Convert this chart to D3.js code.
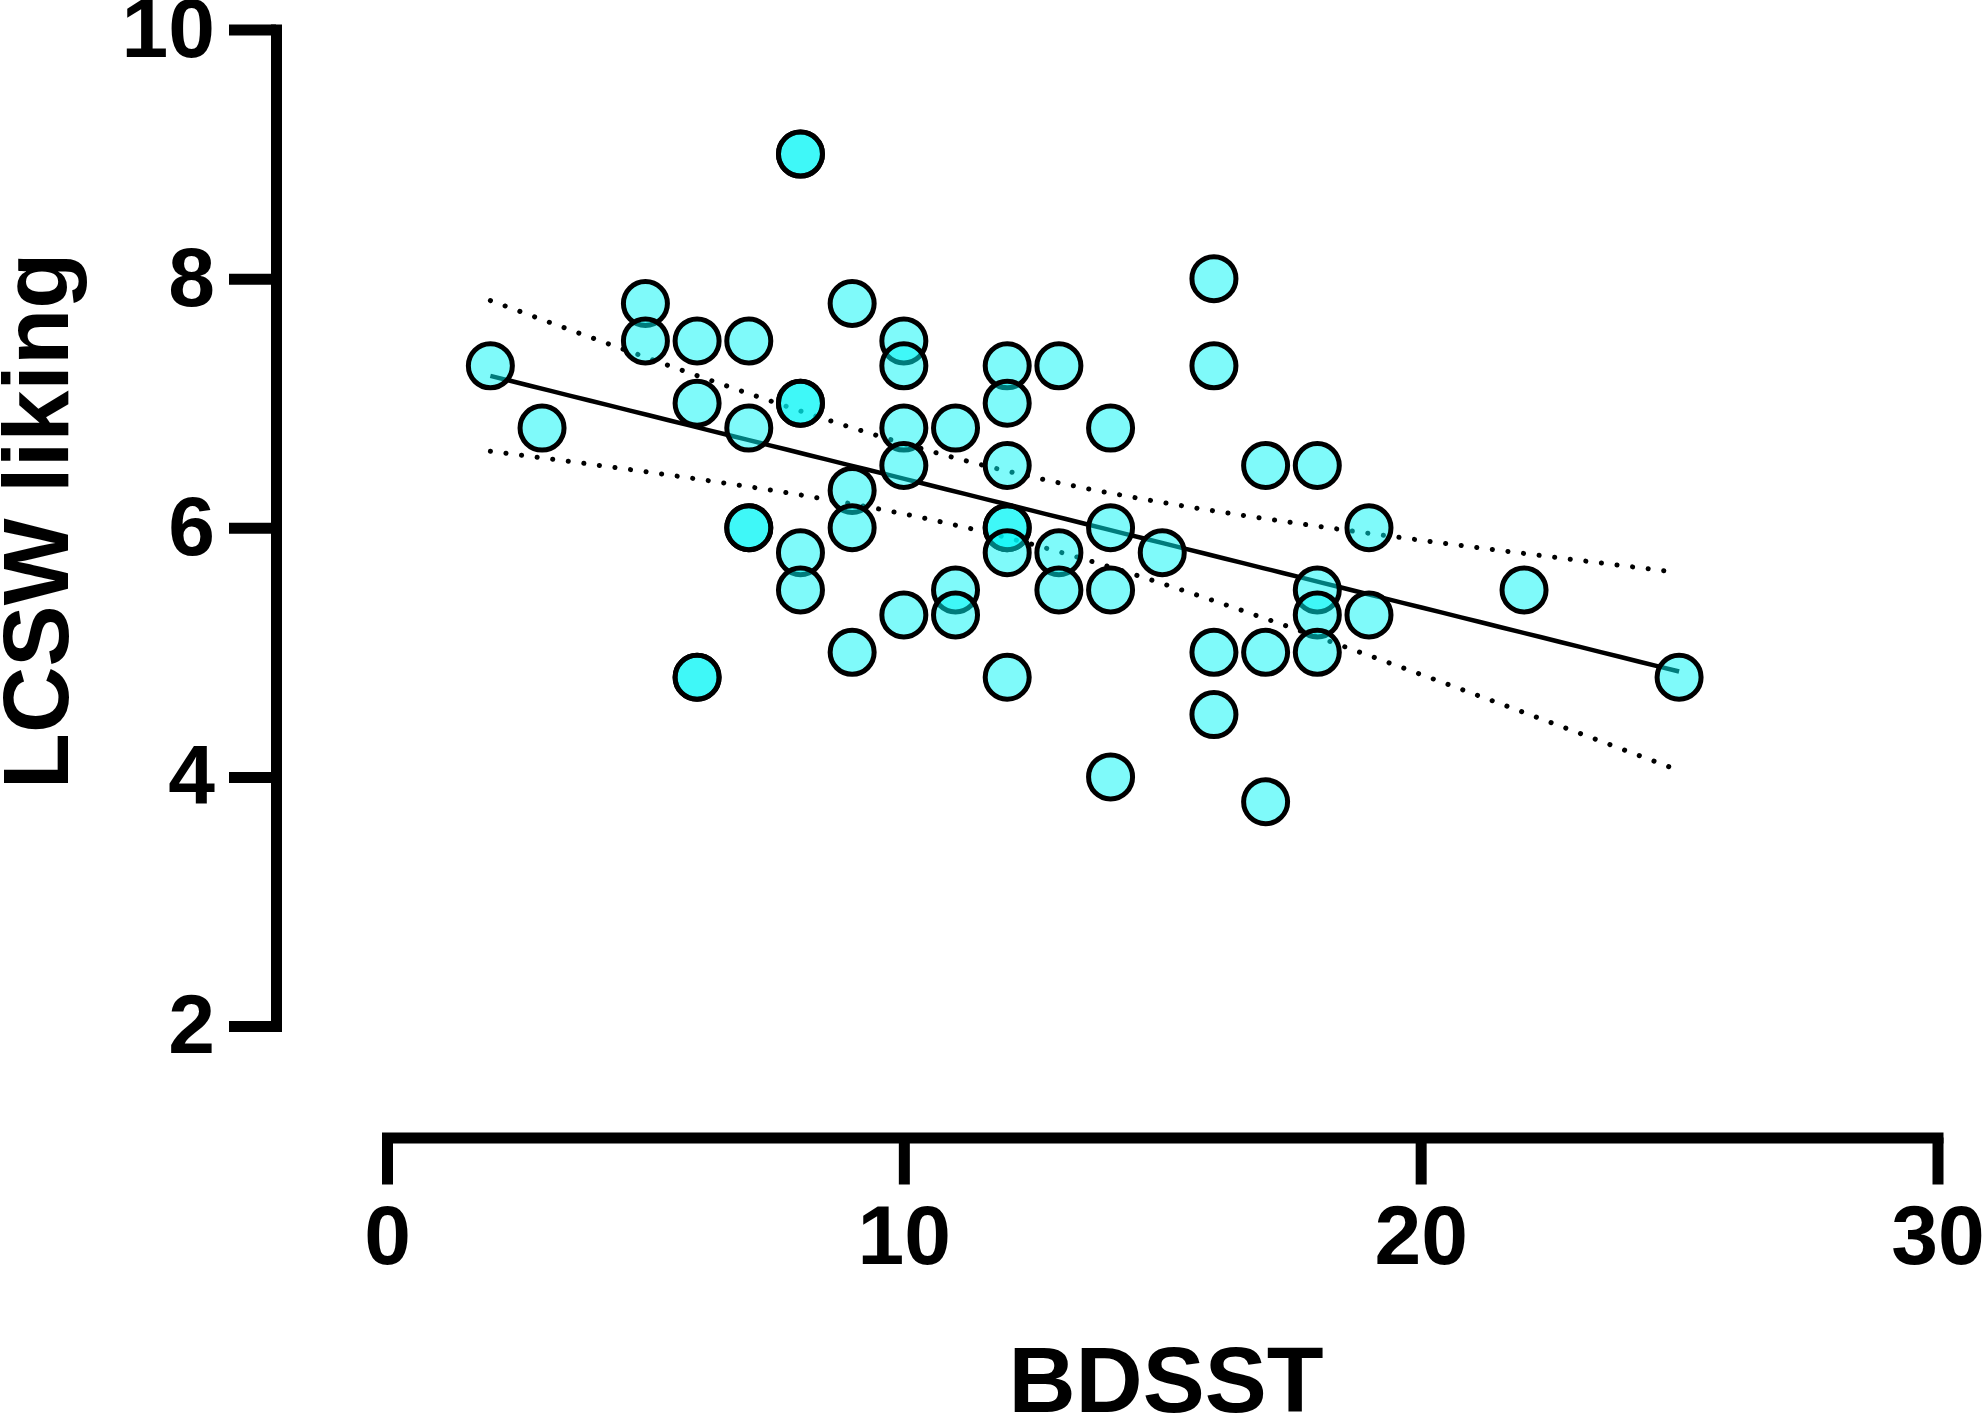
<!DOCTYPE html>
<html>
<head>
<meta charset="utf-8">
<script src="https://cdn.jsdelivr.net/npm/d3@7"></script>
<style>
  body { margin: 0; background: #fff; }
  text { font-family: "Liberation Sans", Arial, sans-serif; font-weight: bold; }
</style>
</head>
<body>
<script>
// BDSST score (x) and LCSW liking (y) for each participant
var bdsst  = [2, 3, 5, 5, 6, 6, 6, 6, 7, 7, 7, 7,
              8, 8, 8, 8, 8, 8, 9, 9, 9, 9,
              10, 10, 10, 10, 10, 11, 11, 11,
              12, 12, 12, 12, 12, 12, 12, 13, 13, 13,
              14, 14, 14, 14, 15, 16, 16, 16, 16,
              17, 17, 17, 18, 18, 18, 18, 19, 19, 22, 25];
var liking = [7.3, 6.8, 7.8, 7.5, 7.5, 7.0, 4.8, 4.8, 7.5, 6.8, 6.0, 6.0,
              9.0, 9.0, 7.0, 7.0, 5.8, 5.5, 7.8, 6.3, 6.0, 5.0,
              7.5, 7.3, 6.8, 6.5, 5.3, 6.8, 5.5, 5.3,
              7.3, 7.0, 6.5, 6.0, 6.0, 5.8, 4.8, 7.3, 5.8, 5.5,
              6.8, 6.0, 5.5, 4.0, 5.8, 8.0, 7.3, 5.0, 4.5,
              6.5, 5.0, 3.8, 6.5, 5.5, 5.3, 5.0, 6.0, 5.3, 5.5, 4.8];

var xTicks = [0, 10, 20, 30];
var yTicks = [2, 4, 6, 8, 10];
var xLabel = "BDSST";
var yLabel = "LCSW liking";
var tCrit = 2.006; // 95% two-sided, df = n - 2

function init() {
    var w = 1982;
    var h = 1416;

    var x = d3.scaleLinear().domain([0, 30]).range([387, 1937.5]);
    var y = d3.scaleLinear().domain([2, 10]).range([1026, 29.5]);

    var svg = d3.select("body")
        .append("svg")
        .attr("width", w)
        .attr("height", h);

    // linear fit with 95% confidence band
    var n = bdsst.length;
    var mx = d3.mean(bdsst);
    var my = d3.mean(liking);
    var sxx = d3.sum(bdsst, d => (d - mx) * (d - mx));
    var sxy = d3.sum(bdsst, (d, i) => (d - mx) * (liking[i] - my));
    var slope = sxy / sxx;
    var icpt = my - slope * mx;
    var sse = d3.sum(bdsst, (d, i) => Math.pow(liking[i] - (icpt + slope * d), 2));
    var se = Math.sqrt(sse / (n - 2));

    var x0 = d3.min(bdsst), x1 = d3.max(bdsst);
    var grid = d3.range(x0, x1 + 0.001, (x1 - x0) / 60);
    var band = grid.map(v => {
        var fit = icpt + slope * v;
        var hw = tCrit * se * Math.sqrt(1 / n + (v - mx) * (v - mx) / sxx);
        return {x: v, fit: fit, lo: fit - hw, hi: fit + hw};
    });

    var fitLine = d3.line().x(d => x(d.x)).y(d => y(d.fit));
    var hiLine = d3.line().x(d => x(d.x)).y(d => y(d.hi));
    var loLine = d3.line().x(d => x(d.x)).y(d => y(d.lo));

    [hiLine, loLine].forEach(l => {
        svg.append("path")
            .attr("d", l(band))
            .attr("fill", "none")
            .attr("stroke", "#000")
            .attr("stroke-width", 5)
            .attr("stroke-linecap", "round")
            .attr("stroke-dasharray", "0.1 15.6");
    });

    svg.append("path")
        .attr("d", fitLine(band))
        .attr("fill", "none")
        .attr("stroke", "#000")
        .attr("stroke-width", 4.5);

    // points
    svg.selectAll("circle")
        .data(bdsst)
        .enter()
        .append("circle")
        .attr("cx", d => x(d))
        .attr("cy", (d, i) => y(liking[i]))
        .attr("r", 22)
        .style("fill", "rgb(0, 245, 245)")
        .style("fill-opacity", 0.5)
        .style("stroke", "#000")
        .style("stroke-width", 5);

    // axes
    var yAxis = d3.axisLeft(y).tickValues(yTicks).tickSize(47).tickSizeOuter(0).tickPadding(14);
    var xAxis = d3.axisBottom(x).tickValues(xTicks).tickSize(47).tickSizeOuter(0).tickPadding(20);

    var gy = svg.append("g")
        .attr("transform", "translate(276,0)")
        .call(yAxis);
    var gx = svg.append("g")
        .attr("transform", "translate(0,1137.5)")
        .call(xAxis);

    [gy, gx].forEach(g => {
        g.select(".domain")
            .attr("stroke", "#000")
            .attr("stroke-width", 11)
            .attr("stroke-linecap", "square");
        g.selectAll(".tick line")
            .attr("stroke", "#000")
            .attr("stroke-width", 11);
        g.selectAll(".tick text")
            .attr("fill", "#000")
            .style("font-size", "84px");
    });

    svg.append("text")
        .attr("x", 1166)
        .attr("y", 1412)
        .attr("text-anchor", "middle")
        .style("font-size", "93px")
        .text(xLabel);

    svg.append("text")
        .attr("transform", "translate(68,521) rotate(-90)")
        .attr("text-anchor", "middle")
        .style("font-size", "92px")
        .text(yLabel);
}

window.onload = init;
</script>
</body>
</html>
